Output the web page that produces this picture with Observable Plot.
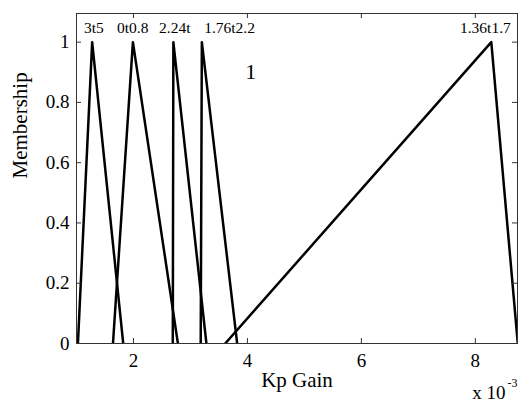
<!DOCTYPE html>
<html><head><meta charset="utf-8">
<script src="https://cdn.jsdelivr.net/npm/d3@7"></script>
<script src="https://cdn.jsdelivr.net/npm/@observablehq/plot@0.6"></script>
<style>body{margin:0;background:#fff;} svg{display:block} svg text{font-family:'Liberation Serif','Times New Roman',serif;}</style>
</head><body><div id="chart"></div>
<script>
// Membership function names (labels drawn above each peak)
const mfNames  = ["3t5", "0t0.8", "2.24t", "1.76t2.2", "1.36t1.7"];
// Triangle corners (Kp gain, ×10^-3)
const mfLeft   = [1.025, 1.64, 2.69, 3.18, 3.61];
const mfPeak   = [1.275, 1.99, 2.70, 3.20, 8.28];
const mfRight  = [1.82, 2.78, 3.28, 3.82, 8.745];
// Label anchor (start) positions
const labelX   = [1.13, 1.71, 2.45, 3.24, 7.73];
const labelY   = [1.047, 1.047, 1.047, 1.047, 1.047];
// Stray annotation
const noteText = ["1"];
const noteX    = [4.06];
const noteY    = [0.90];
// Ticks
const xTicks = [2, 4, 6, 8];
const yTicks = [0, 0.2, 0.4, 0.6, 0.8, 1];
const yTickLabels = ["0", "0.2", "0.4", "0.6", "0.8", "1"];

const rows = [];
mfNames.forEach((name, i) => {
  rows.push({mf: name, x: mfLeft[i], y: 0},
            {mf: name, x: mfPeak[i], y: 1},
            {mf: name, x: mfRight[i], y: 0});
});
const labels = mfNames.map((t, i) => ({t, x: labelX[i], y: labelY[i]}));
const notes = noteText.map((t, i) => ({t, x: noteX[i], y: noteY[i]}));

const serif = "'Liberation Serif', 'Times New Roman', serif";
const axisColor = "#333";

const chart = Plot.plot({
  width: 518, height: 406,
  marginLeft: 76, marginRight: 1, marginTop: 13, marginBottom: 63,
  style: {fontFamily: serif, background: "#fff", color: "#000"},
  x: {domain: [1, 8.74]},
  y: {domain: [0, 1.095]},
  marks: [
    Plot.line(rows, {x: "x", y: "y", z: "mf", stroke: "#000", strokeWidth: 2.5, clip: true}),
    Plot.frame({stroke: axisColor}),
    Plot.tickX(xTicks, {x: d => d, insetTop: 325, stroke: axisColor}),
    Plot.tickX(xTicks, {x: d => d, insetBottom: 325, stroke: axisColor}),
    Plot.tickY(yTicks, {y: d => d, insetRight: 436, stroke: axisColor}),
    Plot.tickY(yTicks, {y: d => d, insetLeft: 436, stroke: axisColor}),
    Plot.axisX({ticks: xTicks, tickSize: 0, tickPadding: 10, fontSize: 19, fontFamily: serif, label: null}),
    Plot.axisY({ticks: yTicks, tickSize: 0, tickPadding: 7, fontSize: 19, fontFamily: serif, label: null,
                tickFormat: d => yTickLabels[yTicks.indexOf(d)]}),
    Plot.text(labels, {x: "x", y: "y", text: "t", textAnchor: "start", fontSize: 15.5, fontFamily: serif, fill: "#000"}),
    Plot.text(notes, {x: "x", y: "y", text: "t", fontSize: 22, fontFamily: serif, fill: "#000"}),
    Plot.text(["Kp Gain"], {frameAnchor: "bottom", dy: 43, fontSize: 21, fontFamily: serif, fill: "#000"}),
    Plot.text(["Membership"], {frameAnchor: "left", rotate: -90, dx: -56, fontSize: 21, fontFamily: serif, fill: "#000"}),
    Plot.text(["x 10"], {frameAnchor: "bottom-right", textAnchor: "end", dx: -12, dy: 55, fontSize: 19, fontFamily: serif, fill: "#000"}),
    Plot.text(["-3"], {frameAnchor: "bottom-right", textAnchor: "start", dx: -10, dy: 43, fontSize: 12, fontFamily: serif, fill: "#000"})
  ]
});
document.getElementById("chart").appendChild(chart);
</script>
</body></html>
